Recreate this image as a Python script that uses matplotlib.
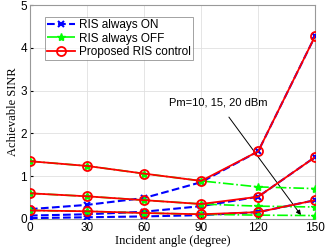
import matplotlib.pyplot as plt

angles = [0, 30, 60, 90, 120, 150]

# RIS always ON (Pm = 20, 15, 10 dBm)
on_20 = [0.23, 0.33, 0.49, 0.86, 1.58, 4.28]
on_15 = [0.08, 0.11, 0.17, 0.30, 0.52, 1.45]
on_10 = [0.02, 0.04, 0.06, 0.09, 0.16, 0.44]

# RIS always OFF
off_20 = [1.35, 1.24, 1.06, 0.89, 0.75, 0.71]
off_15 = [0.60, 0.53, 0.44, 0.35, 0.30, 0.28]
off_10 = [0.20, 0.18, 0.14, 0.11, 0.09, 0.08]

# Proposed RIS control
prop_20 = [1.35, 1.24, 1.06, 0.89, 1.58, 4.28]
prop_15 = [0.60, 0.53, 0.44, 0.35, 0.52, 1.45]
prop_10 = [0.20, 0.18, 0.14, 0.11, 0.16, 0.44]

plt.rcParams["font.family"] = ["Liberation Sans", "DejaVu Sans"]

fig = plt.figure(figsize=(3.25, 2.52), dpi=100)
ax = fig.add_axes([0.092, 0.131, 0.878, 0.849])

for i, (on, off, prop) in enumerate([(on_20, off_20, prop_20),
                                     (on_15, off_15, prop_15),
                                     (on_10, off_10, prop_10)]):
    ax.plot(angles, on, "b--", marker="x", ms=5, mew=1.5, lw=1.5,
            label="RIS always ON" if i == 0 else None, zorder=3)
    ax.plot(angles, off, "-.", color="#00ff00", marker="*", ms=6, lw=1.2,
            label="RIS always OFF" if i == 0 else None, zorder=4)
    ax.plot(angles, prop, "r-", marker="o", ms=6.5, mfc="none", mew=1.3, lw=1.3,
            label="Proposed RIS control" if i == 0 else None, zorder=5)

ax.annotate("Pm=10, 15, 20 dBm", xy=(142.5, 0.09), xytext=(99, 2.72),
            ha="center", va="center", fontsize=8,
            arrowprops=dict(arrowstyle="-|>", color="k", lw=0.7,
                            shrinkA=6, shrinkB=0, mutation_scale=7))

ax.set_xlim(0, 150)
ax.set_ylim(0, 5)
ax.set_xticks(angles)
ax.set_yticks([0, 1, 2, 3, 4, 5])
ax.tick_params(labelsize=8.5, length=2, direction="in", pad=2)
ax.grid(True, color="#e0e0e0", lw=0.6)
for s in ax.spines.values():
    s.set_color("#999999")
ax.set_xlabel("Incident angle (degree)", family="Liberation Serif", fontsize=9, labelpad=1)
ax.set_ylabel("Achievable SINR", family="Liberation Serif", fontsize=9, labelpad=1)

leg = ax.legend(loc="upper left", bbox_to_anchor=(0.052, 0.944), fontsize=8.5,
                frameon=True, fancybox=False, borderpad=0.2, handlelength=2.4,
                handletextpad=0.3, labelspacing=0.1, borderaxespad=0)
leg.get_frame().set_edgecolor("#777777")
leg.get_frame().set_linewidth(0.6)

fig.savefig("out.png", dpi=100)
